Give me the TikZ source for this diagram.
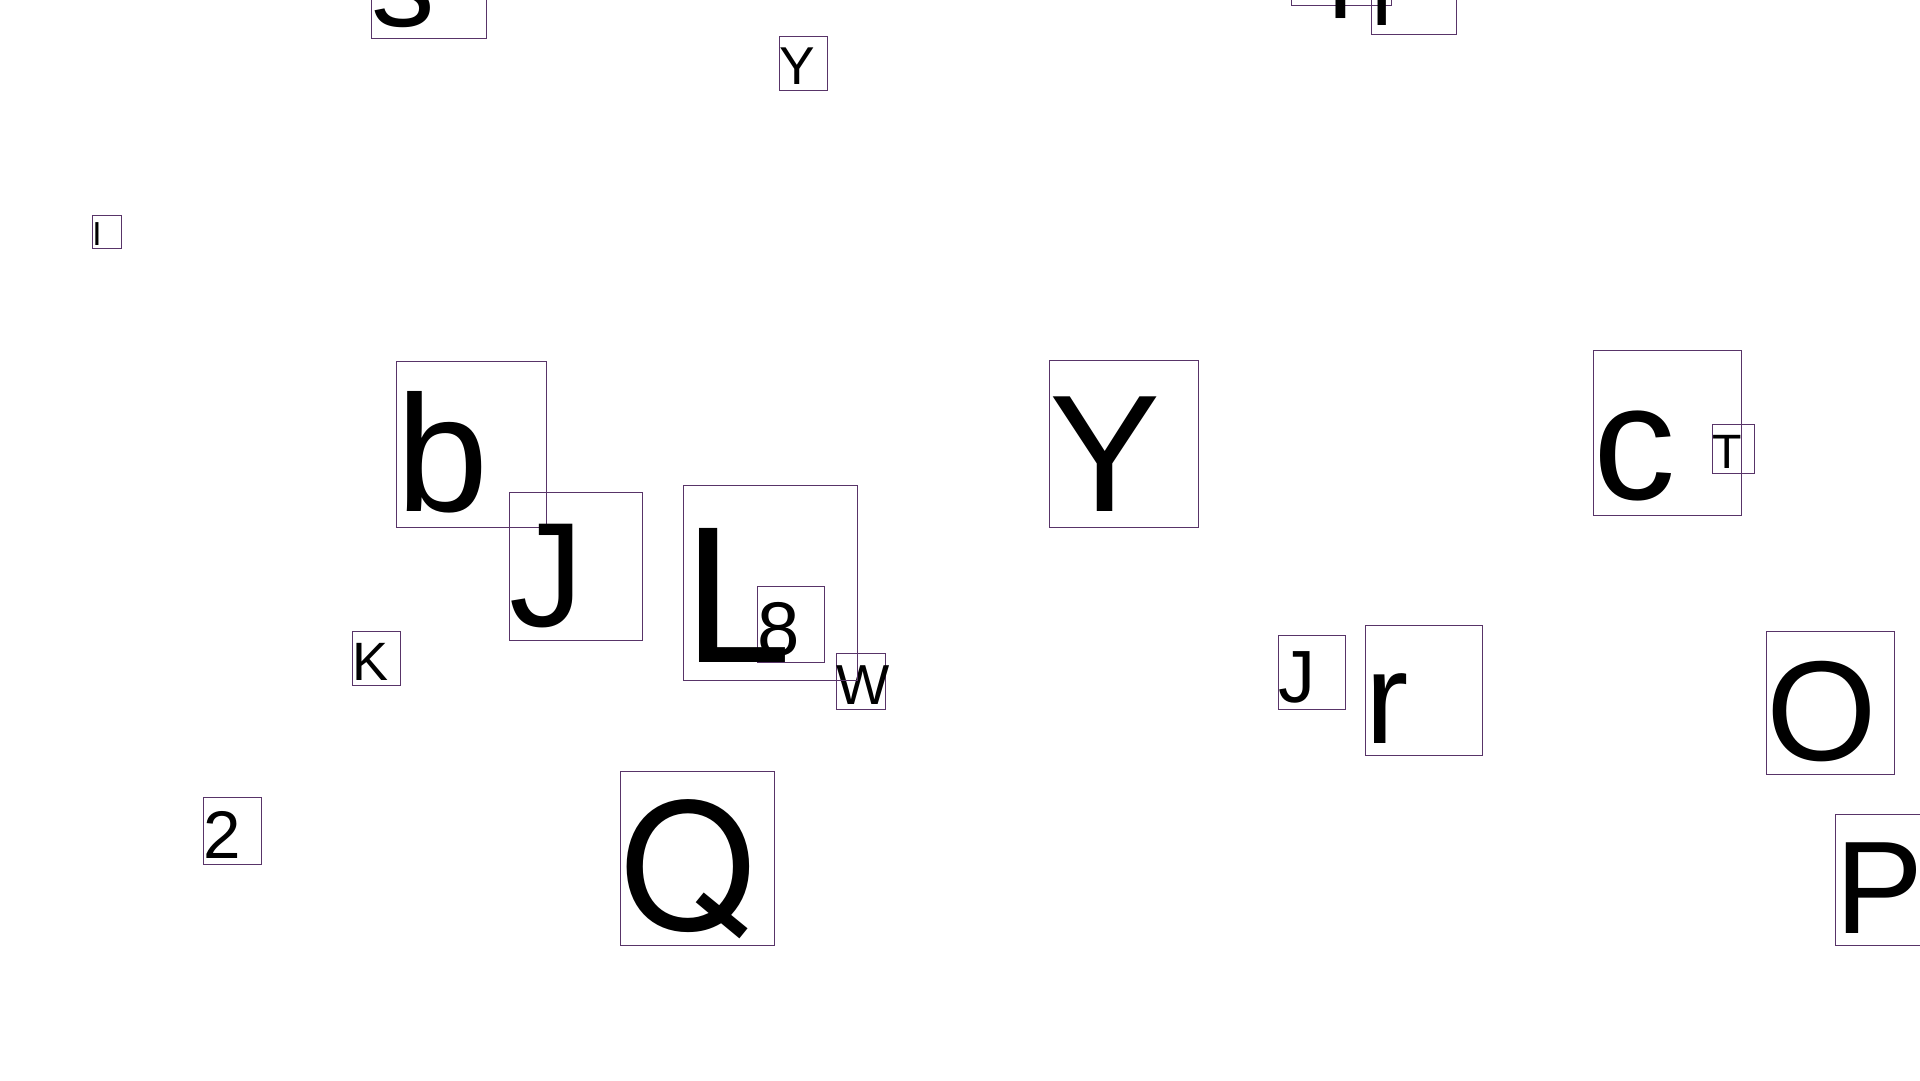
\documentclass[tikz,border=0pt]{standalone}
\usepackage{fontspec}
\setmainfont{Liberation Sans}
\newfontfamily\heros{TeX Gyre Heros}
\definecolor{boxline}{RGB}{88,52,104}
\tikzset{
  letterbox/.style={draw=boxline, line width=1pt, inner sep=0pt, align=left, anchor=north west}
}
\begin{document}
\begin{tikzpicture}[x=1pt,y=-1pt]
    \useasboundingbox (0,0) rectangle (1920,1080); % page frame
    % name / left / top / width / size / letter
    \foreach \nm/\x/\y/\w/\fs/\t in {
        stop/371/-88.8/114.5/127/s,          % cut by top edge
        qtop/1291.3/-105.7/100/111/q,
        rtop/1371.3/-60.2/85/94.5/r,
        ysmall/778.7/36.2/47.8/53.3/Y,
        ibox/91.8/215/29.4/33.3/I,
        bbox/396/361.3/149.5/165.7/b,
        jbig/509.4/491.5/132.8/148.7/J,
        eight/757.3/586.2/66.7/76.1/8,
        wbox/836.3/653/48.9/56.4/W,
        lbox/682.6/485.3/174.4/194.9/L,      % on top of 8
        kbox/352/631.3/48.4/54/K,
        two/202.6/797/58.8/67.4/2,
        qbig/619.5/771.4/154.9/174/{\heros Q},
        ybig/1048.8/360.3/148.7/166.7/Y,
        cbox/1593/350.3/147.6/164.7/c,
        tbox/1712/424.3/42.2/48.2/T,
        jsmall/1277.7/635.4/66.8/74/J,
        rbig/1364.7/625.4/116.9/129.9/r,
        obox/1765.7/631.3/127.9/142.2/O,
        pbox/1835.4/813.5/118.7/131.9/P}    % cut by right edge
        \node[letterbox, font=\fontsize{\fs}{\fs}\selectfont,
              text width=\w pt, text height=0.905*\fs pt, text depth=0.095*\fs pt]
              (\nm) at (\x,\y) {\t};
\end{tikzpicture}
\end{document}
